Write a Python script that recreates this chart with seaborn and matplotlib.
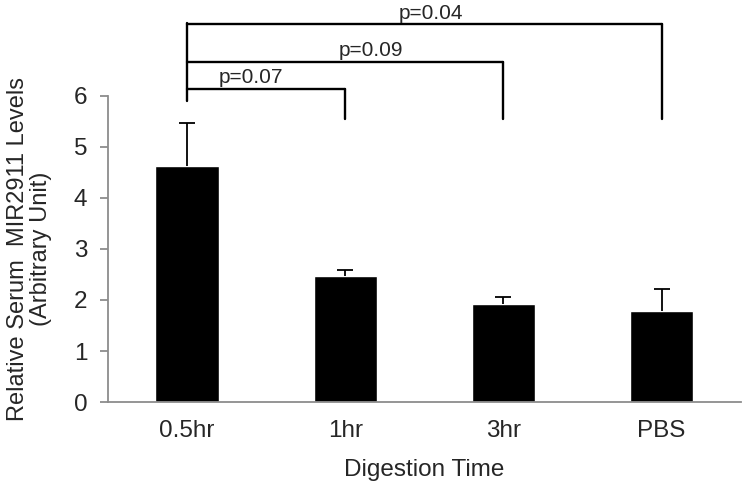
import pandas as pd
import numpy as np
import matplotlib
matplotlib.use('Agg')
import matplotlib.pyplot as plt
import seaborn as sns

categorias = ['0.5hr', '1hr', '3hr', 'PBS']
niveis = [4.63, 2.47, 1.92, 1.78]
erros = [0.84, 0.12, 0.13, 0.43]

# comparacoes: (grupo a, grupo b, altura do colchete, p)
comparacoes = [
    ('0.5hr', '1hr', 6.14, 'p=0.07'),
    ('0.5hr', '3hr', 6.67, 'p=0.09'),
    ('0.5hr', 'PBS', 7.41, 'p=0.04'),
]
texto_x = [0.2, 0.96, 1.34]

df = pd.DataFrame({'tempo': categorias, 'nivel': niveis, 'erro': erros})

sns.set_style('white')
plt.rcParams['font.family'] = ['Liberation Sans', 'DejaVu Sans']

fig = plt.figure(figsize=(7.43, 4.84), dpi=100)
ax = fig.add_axes([0.1454, 0.1694, 0.8516, 0.6323])

sns.barplot(data=df, x='tempo', y='nivel', color='black', width=0.4,
            errorbar=None, saturation=1, ax=ax)
pos = np.arange(len(categorias))
eb = ax.errorbar(pos, df['nivel'], yerr=[np.zeros(len(erros)), df['erro']],
                 fmt='none', ecolor='black', elinewidth=1.3, capsize=5.5, capthick=1.3)
eb[1][0].set_visible(False)  # sem cap embaixo

ax.set_xlim(-0.5, 3.5)
ax.set_ylim(0, 6)
ax.set_yticks(range(7))

for s in ['top', 'right']:
    ax.spines[s].set_visible(False)
for s in ['left', 'bottom']:
    ax.spines[s].set_color('#8c8c8c')
    ax.spines[s].set_linewidth(1.3)

ax.tick_params(axis='y', which='major', left=True, length=5.8, width=1.3,
               color='#8c8c8c', labelsize=17.5, pad=9)
ax.tick_params(axis='x', bottom=False, length=0, labelsize=17.5, pad=13)

ax.set_xlabel('Digestion Time', fontsize=17.5, labelpad=12)
ax.set_ylabel('Relative Serum  MIR2911 Levels\n(Arbitrary Unit)', fontsize=17,
              labelpad=16, linespacing=1.05)

# colchetes de significancia
for (a, b, h, p), tx in zip(comparacoes, texto_x):
    xa = categorias.index(a)
    xb = categorias.index(b)
    ax.plot([xa, xb], [h, h], color='black', lw=1.7, clip_on=False)
    ax.plot([xb, xb], [5.55, h], color='black', lw=1.7, clip_on=False)
    ax.text(tx, h + 0.03, p, fontsize=15, ha='left', va='bottom')
ax.plot([0, 0], [5.9, 7.43], color='black', lw=1.7, clip_on=False)

plt.savefig('out.png', dpi=100)
